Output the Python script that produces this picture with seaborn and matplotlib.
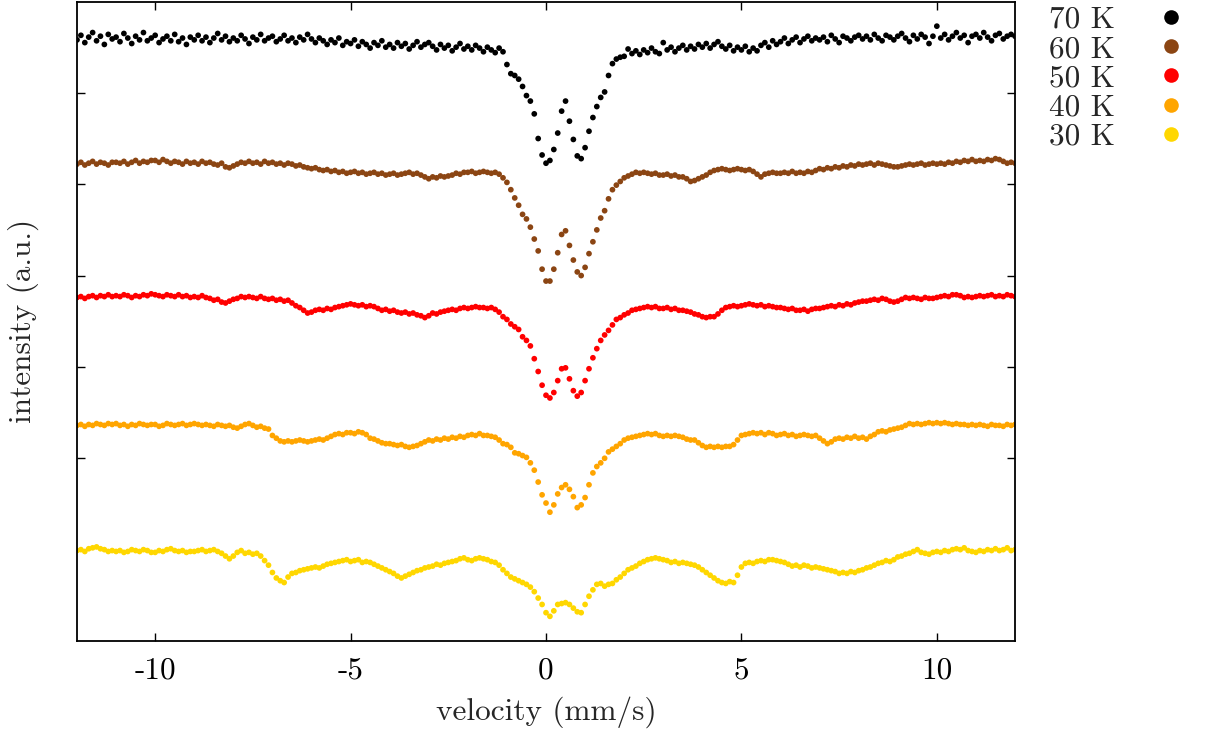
import numpy as np
import pandas as pd
import matplotlib
matplotlib.use("Agg")
import matplotlib.pyplot as plt
from matplotlib.lines import Line2D
import seaborn as sns

# Doppler velocity grid of the spectrometer (mm/s)
velocity = np.round(np.arange(-120, 121) / 10.0, 1)

temperatures = ["70 K", "60 K", "50 K", "40 K", "30 K"]
colors = ["#000000", "#8b4513", "#ff0000", "#ffa500", "#ffd700"]

# Stacked transmission spectra (a.u.), one value per velocity channel
int_70K = [
    6.58, 6.63, 6.55, 6.61, 6.66, 6.57, 6.62, 6.53, 6.64, 6.59,
    6.61, 6.56, 6.65, 6.60, 6.54, 6.62, 6.58, 6.66, 6.57, 6.60,
    6.63, 6.55, 6.59, 6.62, 6.57, 6.64, 6.56, 6.60, 6.53, 6.61,
    6.58, 6.63, 6.57, 6.61, 6.55, 6.60, 6.65, 6.58, 6.62, 6.56,
    6.60, 6.57, 6.63, 6.59, 6.54, 6.61, 6.58, 6.64, 6.57, 6.60,
    6.62, 6.56, 6.59, 6.63, 6.57, 6.60, 6.55, 6.61, 6.58, 6.64,
    6.59, 6.55, 6.60, 6.57, 6.53, 6.58, 6.55, 6.60, 6.52, 6.56,
    6.54, 6.58, 6.51, 6.56, 6.53, 6.49, 6.55, 6.52, 6.57, 6.50,
    6.53, 6.49, 6.55, 6.51, 6.54, 6.48, 6.52, 6.56, 6.50, 6.53,
    6.55, 6.51, 6.47, 6.53, 6.49, 6.52, 6.46, 6.50, 6.54, 6.48,
    6.51, 6.47, 6.52, 6.49, 6.45, 6.50, 6.47, 6.44, 6.49, 6.45,
    6.31, 6.21, 6.19, 6.15, 6.07, 5.97, 5.91, 5.77, 5.50, 5.32,
    5.23, 5.26, 5.38, 5.56, 5.80, 5.91, 5.69, 5.49, 5.31, 5.28,
    5.40, 5.58, 5.73, 5.85, 5.95, 6.01, 6.19, 6.32, 6.37, 6.39,
    6.40, 6.48, 6.43, 6.46, 6.42, 6.47, 6.44, 6.49, 6.45, 6.43,
    6.55, 6.47, 6.50, 6.45, 6.49, 6.52, 6.47, 6.51, 6.48, 6.53,
    6.50, 6.54, 6.49, 6.53, 6.56, 6.51, 6.48, 6.52, 6.46, 6.50,
    6.47, 6.51, 6.45, 6.49, 6.46, 6.52, 6.55, 6.50, 6.57, 6.53,
    6.56, 6.60, 6.54, 6.58, 6.61, 6.55, 6.59, 6.62, 6.57, 6.60,
    6.58, 6.61, 6.56, 6.63, 6.59, 6.55, 6.62, 6.60, 6.57, 6.61,
    6.63, 6.59, 6.62, 6.58, 6.64, 6.60, 6.57, 6.63, 6.61, 6.58,
    6.62, 6.65, 6.60, 6.56, 6.63, 6.59, 6.64, 6.61, 6.54, 6.62,
    6.73, 6.60, 6.64, 6.58, 6.62, 6.66, 6.60, 6.63, 6.55, 6.62,
    6.64, 6.60, 6.66, 6.61, 6.57, 6.63, 6.65, 6.59, 6.62, 6.64,
    6.62,
]

int_60K = [
    5.22, 5.24, 5.21, 5.23, 5.25, 5.22, 5.24, 5.23, 5.21, 5.24,
    5.24, 5.23, 5.25, 5.22, 5.24, 5.26, 5.23, 5.25, 5.24, 5.26,
    5.26, 5.24, 5.27, 5.25, 5.23, 5.25, 5.24, 5.22, 5.25, 5.23,
    5.24, 5.22, 5.25, 5.23, 5.24, 5.22, 5.21, 5.23, 5.19, 5.18,
    5.20, 5.22, 5.24, 5.23, 5.25, 5.23, 5.24, 5.22, 5.25, 5.23,
    5.24, 5.22, 5.23, 5.21, 5.23, 5.22, 5.20, 5.21, 5.19, 5.18,
    5.17, 5.18, 5.16, 5.15, 5.16, 5.14, 5.15, 5.13, 5.14, 5.12,
    5.13, 5.14, 5.12, 5.13, 5.11, 5.12, 5.13, 5.11, 5.12, 5.10,
    5.11, 5.12, 5.10, 5.11, 5.12, 5.13, 5.11, 5.12, 5.10, 5.08,
    5.06, 5.08, 5.07, 5.09, 5.08, 5.09, 5.10, 5.12, 5.11, 5.13,
    5.13, 5.14, 5.12, 5.13, 5.14, 5.13, 5.12, 5.13, 5.11, 5.07,
    5.02, 4.94, 4.85, 4.77, 4.67, 4.62, 4.53, 4.40, 4.27, 4.07,
    3.94, 3.94, 4.07, 4.25, 4.45, 4.49, 4.33, 4.17, 4.04, 4.00,
    4.09, 4.24, 4.37, 4.50, 4.63, 4.71, 4.84, 4.94, 4.99, 5.03,
    5.07, 5.09, 5.11, 5.13, 5.12, 5.13, 5.12, 5.11, 5.12, 5.10,
    5.10, 5.11, 5.09, 5.10, 5.08, 5.08, 5.06, 5.03, 5.04, 5.06,
    5.08, 5.10, 5.13, 5.15, 5.16, 5.17, 5.16, 5.15, 5.16, 5.17,
    5.16, 5.15, 5.16, 5.14, 5.11, 5.08, 5.11, 5.12, 5.13, 5.12,
    5.12, 5.13, 5.12, 5.14, 5.12, 5.13, 5.12, 5.14, 5.13, 5.15,
    5.17, 5.16, 5.18, 5.17, 5.19, 5.18, 5.20, 5.19, 5.21, 5.20,
    5.22, 5.21, 5.22, 5.23, 5.21, 5.23, 5.22, 5.21, 5.20, 5.19,
    5.19, 5.20, 5.21, 5.22, 5.21, 5.22, 5.23, 5.21, 5.22, 5.23,
    5.22, 5.23, 5.22, 5.24, 5.23, 5.25, 5.24, 5.26, 5.25, 5.27,
    5.25, 5.26, 5.25, 5.27, 5.26, 5.28, 5.27, 5.25, 5.23, 5.24,
    5.23,
]

int_50K = [
    3.76, 3.77, 3.75, 3.77, 3.78, 3.76, 3.78, 3.77, 3.79, 3.77,
    3.78, 3.77, 3.79, 3.78, 3.76, 3.78, 3.77, 3.79, 3.78, 3.80,
    3.79, 3.78, 3.77, 3.79, 3.78, 3.77, 3.79, 3.77, 3.78, 3.76,
    3.77, 3.76, 3.78, 3.76, 3.75, 3.73, 3.74, 3.71, 3.70, 3.72,
    3.74, 3.75, 3.77, 3.76, 3.77, 3.76, 3.75, 3.77, 3.75, 3.74,
    3.75, 3.73, 3.74, 3.72, 3.73, 3.70, 3.67, 3.65, 3.62, 3.59,
    3.60, 3.62, 3.63, 3.62, 3.64, 3.63, 3.65, 3.66, 3.67, 3.68,
    3.69, 3.68, 3.67, 3.68, 3.66, 3.67, 3.66, 3.64, 3.62, 3.63,
    3.61, 3.62, 3.60, 3.59, 3.60, 3.58, 3.59, 3.57, 3.56, 3.54,
    3.56, 3.59, 3.58, 3.60, 3.61, 3.62, 3.63, 3.62, 3.64, 3.65,
    3.64, 3.65, 3.66, 3.65, 3.65, 3.64, 3.65, 3.63, 3.60, 3.55,
    3.52, 3.47, 3.44, 3.41, 3.33, 3.29, 3.23, 3.09, 2.95, 2.80,
    2.69, 2.66, 2.72, 2.85, 2.98, 2.99, 2.87, 2.74, 2.68, 2.72,
    2.85, 2.98, 3.10, 3.20, 3.29, 3.35, 3.40, 3.46, 3.52, 3.54,
    3.57, 3.59, 3.62, 3.63, 3.64, 3.65, 3.66, 3.65, 3.66, 3.64,
    3.64, 3.65, 3.63, 3.64, 3.62, 3.62, 3.61, 3.60, 3.58, 3.57,
    3.55, 3.54, 3.55, 3.55, 3.58, 3.62, 3.65, 3.66, 3.67, 3.66,
    3.67, 3.68, 3.69, 3.68, 3.67, 3.68, 3.66, 3.67, 3.66, 3.65,
    3.65, 3.64, 3.63, 3.64, 3.62, 3.62, 3.63, 3.61, 3.63, 3.64,
    3.64, 3.65, 3.66, 3.67, 3.66, 3.68, 3.67, 3.69, 3.68, 3.70,
    3.71, 3.72, 3.72, 3.73, 3.74, 3.73, 3.75, 3.74, 3.72, 3.71,
    3.72, 3.74, 3.76, 3.75, 3.76, 3.75, 3.74, 3.76, 3.75, 3.75,
    3.76, 3.77, 3.78, 3.77, 3.79, 3.79, 3.78, 3.76, 3.77, 3.76,
    3.77, 3.78, 3.77, 3.78, 3.79, 3.77, 3.78, 3.77, 3.79, 3.78,
    3.77,
]

int_40K = [
    2.36, 2.37, 2.35, 2.37, 2.36, 2.38, 2.37, 2.36, 2.38, 2.37,
    2.38, 2.36, 2.37, 2.35, 2.37, 2.36, 2.38, 2.37, 2.36, 2.37,
    2.37, 2.35, 2.36, 2.38, 2.37, 2.36, 2.37, 2.38, 2.36, 2.37,
    2.38, 2.37, 2.36, 2.37, 2.36, 2.35, 2.37, 2.36, 2.35, 2.36,
    2.34, 2.33, 2.35, 2.37, 2.38, 2.36, 2.34, 2.35, 2.33, 2.32,
    2.25, 2.22, 2.19, 2.18, 2.19, 2.18, 2.19, 2.20, 2.19, 2.18,
    2.19, 2.20, 2.21, 2.20, 2.22, 2.24, 2.26, 2.27, 2.26, 2.28,
    2.28, 2.27, 2.29, 2.28, 2.26, 2.22, 2.21, 2.19, 2.17, 2.16,
    2.16, 2.15, 2.14, 2.15, 2.13, 2.12, 2.13, 2.14, 2.16, 2.18,
    2.20, 2.19, 2.21, 2.20, 2.22, 2.21, 2.23, 2.22, 2.24, 2.23,
    2.25, 2.26, 2.25, 2.27, 2.25, 2.25, 2.24, 2.23, 2.20, 2.16,
    2.15, 2.12, 2.06, 2.05, 2.03, 2.01, 1.95, 1.87, 1.74, 1.60,
    1.51, 1.41, 1.49, 1.61, 1.68, 1.71, 1.66, 1.58, 1.46, 1.49,
    1.57, 1.71, 1.84, 1.91, 1.95, 2.00, 2.07, 2.10, 2.13, 2.16,
    2.20, 2.22, 2.23, 2.24, 2.25, 2.26, 2.27, 2.26, 2.27, 2.25,
    2.24, 2.25, 2.24, 2.25, 2.24, 2.23, 2.21, 2.20, 2.20, 2.17,
    2.14, 2.12, 2.13, 2.12, 2.13, 2.12, 2.13, 2.13, 2.15, 2.20,
    2.25, 2.26, 2.27, 2.28, 2.27, 2.28, 2.26, 2.28, 2.27, 2.25,
    2.26, 2.27, 2.25, 2.26, 2.24, 2.25, 2.26, 2.25, 2.24, 2.25,
    2.22, 2.19, 2.16, 2.18, 2.21, 2.22, 2.21, 2.23, 2.22, 2.24,
    2.22, 2.23, 2.21, 2.24, 2.26, 2.29, 2.30, 2.29, 2.31, 2.32,
    2.33, 2.34, 2.36, 2.38, 2.37, 2.38, 2.37, 2.38, 2.39, 2.38,
    2.39, 2.38, 2.39, 2.38, 2.37, 2.38, 2.37, 2.37, 2.36, 2.37,
    2.36, 2.37, 2.36, 2.35, 2.37, 2.36, 2.36, 2.35, 2.37, 2.36,
    2.37,
]

int_30K = [
    0.99, 1.00, 0.98, 1.01, 1.02, 1.03, 1.01, 1.00, 0.98, 0.99,
    0.98, 0.99, 0.97, 0.98, 1.00, 0.99, 0.98, 1.00, 0.99, 0.97,
    0.97, 0.99, 0.98, 1.00, 1.01, 0.99, 0.98, 0.99, 0.97, 0.98,
    0.98, 0.99, 1.00, 0.98, 0.99, 1.00, 0.98, 0.96, 0.93, 0.90,
    0.93, 0.97, 0.99, 0.96, 0.97, 0.95, 0.96, 0.93, 0.88, 0.83,
    0.75, 0.69, 0.66, 0.64, 0.70, 0.74, 0.75, 0.77, 0.78, 0.79,
    0.80, 0.81, 0.80, 0.82, 0.84, 0.85, 0.86, 0.87, 0.88, 0.89,
    0.87, 0.88, 0.89, 0.86, 0.87, 0.86, 0.84, 0.82, 0.80, 0.78,
    0.76, 0.74, 0.71, 0.69, 0.71, 0.73, 0.75, 0.77, 0.78, 0.80,
    0.81, 0.82, 0.84, 0.83, 0.85, 0.86, 0.87, 0.88, 0.90, 0.91,
    0.89, 0.88, 0.90, 0.91, 0.90, 0.89, 0.87, 0.86, 0.83, 0.78,
    0.74, 0.70, 0.68, 0.66, 0.64, 0.62, 0.59, 0.54, 0.47, 0.40,
    0.31, 0.27, 0.33, 0.40, 0.41, 0.42, 0.40, 0.36, 0.32, 0.31,
    0.40, 0.49, 0.56, 0.62, 0.63, 0.60, 0.62, 0.63, 0.67, 0.70,
    0.74, 0.78, 0.80, 0.82, 0.85, 0.87, 0.89, 0.90, 0.91, 0.90,
    0.89, 0.88, 0.86, 0.87, 0.85, 0.86, 0.85, 0.84, 0.83, 0.81,
    0.78, 0.75, 0.72, 0.69, 0.66, 0.64, 0.63, 0.65, 0.64, 0.72,
    0.81, 0.85, 0.86, 0.85, 0.87, 0.88, 0.87, 0.89, 0.89, 0.88,
    0.87, 0.86, 0.84, 0.82, 0.83, 0.81, 0.83, 0.82, 0.80, 0.81,
    0.80, 0.79, 0.78, 0.77, 0.76, 0.74, 0.75, 0.74, 0.76, 0.75,
    0.77, 0.78, 0.80, 0.81, 0.83, 0.85, 0.86, 0.88, 0.87, 0.89,
    0.92, 0.93, 0.95, 0.96, 0.98, 1.00, 0.97, 0.96, 0.95, 0.97,
    0.98, 0.97, 0.99, 0.98, 1.00, 1.01, 1.00, 1.02, 0.99, 0.98,
    0.97, 0.99, 0.98, 1.00, 0.99, 1.01, 0.99, 1.00, 1.02, 0.99,
    1.00,
]

x_ticks = [-10, -5, 0, 5, 10]
y_ticks = [2, 3, 4, 5, 6]

spectra = [int_70K, int_60K, int_50K, int_40K, int_30K]
frames = []
for label, values in zip(temperatures, spectra):
    assert len(values) == len(velocity)
    frames.append(pd.DataFrame({"velocity": velocity,
                                "intensity": values,
                                "temperature": label}))
df = pd.concat(frames, ignore_index=True)

sns.set_style("ticks")
plt.rcParams["font.family"] = ["cmr10"]
plt.rcParams["mathtext.fontset"] = "cm"
plt.rcParams["axes.unicode_minus"] = False
plt.rcParams["axes.formatter.use_mathtext"] = False

FS = 22.5

fig = plt.figure(figsize=(12.1, 7.35), dpi=100)
ax = fig.add_axes([77 / 1210, 94 / 735, 938 / 1210, 639.5 / 735])

palette = dict(zip(temperatures, colors))
sns.scatterplot(data=df, x="velocity", y="intensity", hue="temperature",
                hue_order=temperatures, palette=palette, s=17,
                linewidth=0, edgecolor="none", legend=False, ax=ax)

ax.set_xlim(-12, 12)
ax.set_ylim(0, 7)
ax.set_xticks(x_ticks)
ax.set_yticks(y_ticks)
ax.set_yticklabels([])
ax.tick_params(direction="in", length=6, width=1.0, top=True, right=True,
               labelsize=FS, pad=11, colors="black")
for sp in ax.spines.values():
    sp.set_linewidth(1.3)
    sp.set_color("black")

ax.set_xlabel("velocity (mm/s)", fontsize=FS, labelpad=9)
ax.set_ylabel("intensity (a.u.)", fontsize=FS, labelpad=16)

handles = [Line2D([], [], linestyle="", marker="o", markersize=10.5,
                  markerfacecolor=c, markeredgecolor="none") for c in colors]
fig.legend(handles, temperatures, loc="upper left",
           bbox_to_anchor=(1049 / 1210, 1.0 - 6 / 735), frameon=False,
           markerfirst=False, handletextpad=0.78, handlelength=2.0,
           labelspacing=0.04, borderaxespad=0.0, borderpad=0.0, fontsize=FS)

fig.savefig("out.png", dpi=100)
